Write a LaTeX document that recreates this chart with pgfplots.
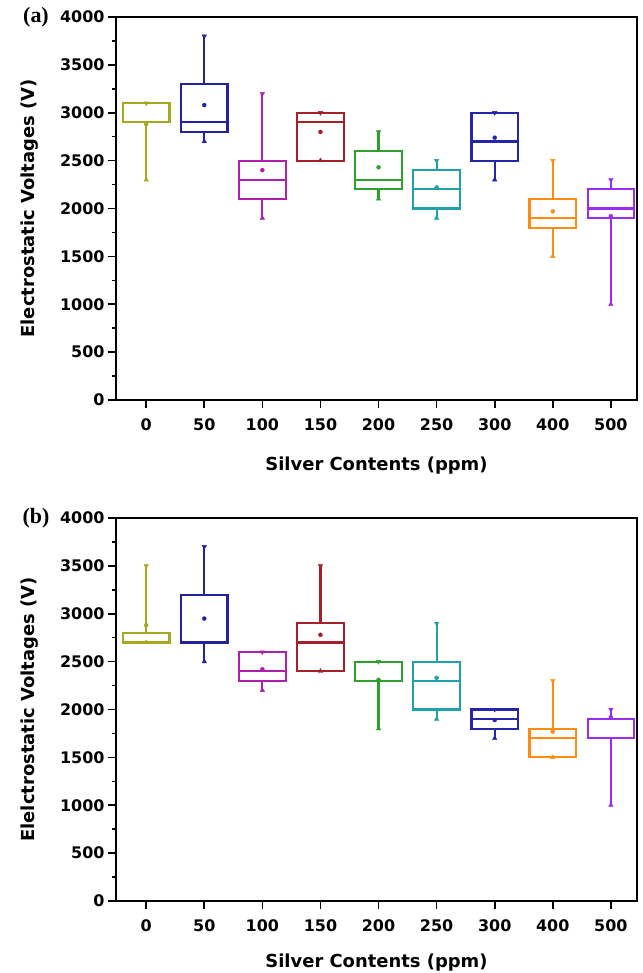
\documentclass[border=0pt]{standalone}
\usepackage{fontspec}
\setmainfont{DejaVu Sans}
\newfontfamily\panelfont{Liberation Serif}
\usepackage{pgfplots}
\usepackage{pgfplotstable}
\pgfplotsset{compat=1.18}

\definecolor{c0}{HTML}{A8A820}
\definecolor{c1}{HTML}{22229A}
\definecolor{c2}{HTML}{B01EB0}
\definecolor{c3}{HTML}{A52028}
\definecolor{c4}{HTML}{2EA02E}
\definecolor{c5}{HTML}{20A0A8}
\definecolor{c6}{HTML}{2525AA}
\definecolor{c7}{HTML}{FF8C10}
\definecolor{c8}{HTML}{9A2BF0}

% box statistics (V)
\pgfplotstableread{
pos lw   lq   med  uq   uw   mean
0   2300 2900 3100 3100 3100 2880
1   2700 2800 2900 3300 3800 3080
2   1900 2100 2300 2500 3200 2400
3   2500 2500 2900 3000 3000 2800
4   2100 2200 2300 2600 2800 2430
5   1900 2000 2200 2400 2500 2220
6   2300 2500 2700 3000 3000 2740
7   1500 1800 1900 2100 2500 1970
8   1000 1900 2000 2200 2300 1920
}\dataA

\pgfplotstableread{
pos lw   lq   med  uq   uw   mean
0   2700 2700 2700 2800 3500 2880
1   2500 2700 2700 3200 3700 2950
2   2200 2300 2400 2600 2600 2420
3   2400 2400 2700 2900 3500 2780
4   1800 2300 2300 2500 2500 2310
5   1900 2000 2300 2500 2900 2330
6   1700 1800 1900 2000 2000 1890
7   1500 1500 1700 1800 2300 1770
8   1000 1700 1900 1900 2000 1920
}\dataB

\pgfplotsset{
  panel/.style={
    scale only axis, width=521bp, height=383bp, anchor=south west,
    xmin=-0.52, xmax=8.45, ymin=0, ymax=4000,
    xtick={0,...,8}, xticklabels={0,50,100,150,200,250,300,400,500},
    ytick={0,500,...,4000}, minor y tick num=1,
    xtick pos=bottom, ytick pos=left, tick align=outside,
    major tick length=8bp, minor tick length=4bp,
    axis line style={line width=2pt},
    tick style={black, line width=1.6pt},
    /pgf/number format/1000 sep={},
    /pgf/number format/assume math mode=true,
    ticklabel style={font=\bfseries\fontsize{16}{16}\selectfont},
    xticklabel style={yshift=-7bp},
    label style={font=\bfseries\fontsize{18}{18}\selectfont},
    xlabel={Silver Contents (ppm)},
  },
}

% one box (box, median, whiskers, mean, min and max marks) from row #1 of table #2
\newcommand\drawbox[2]{%
  \pgfplotstablegetelem{#1}{lw}\of#2\let\vlw\pgfplotsretval
  \pgfplotstablegetelem{#1}{lq}\of#2\let\vlq\pgfplotsretval
  \pgfplotstablegetelem{#1}{med}\of#2\let\vmed\pgfplotsretval
  \pgfplotstablegetelem{#1}{uq}\of#2\let\vuq\pgfplotsretval
  \pgfplotstablegetelem{#1}{uw}\of#2\let\vuw\pgfplotsretval
  \pgfplotstablegetelem{#1}{mean}\of#2\let\vmean\pgfplotsretval
  \pgfmathsetmacro\xl{#1-0.4}%
  \pgfmathsetmacro\xr{#1+0.4}%
  \edef\doplot{%
    \noexpand\addplot[c#1, line width=2.2pt, line join=miter, mark=none]
      coordinates {(\xl,\vlq) (\xr,\vlq) (\xr,\vuq) (\xl,\vuq) (\xl,\vlq) (\xr,\vlq)};
    \noexpand\addplot[c#1, line width=2.2pt, mark=none]
      coordinates {(\xl,\vmed) (\xr,\vmed)};
    \noexpand\addplot[c#1, line width=2.2pt, mark=none]
      coordinates {(#1,\vlw) (#1,\vlq)};
    \noexpand\addplot[c#1, line width=2.2pt, mark=none]
      coordinates {(#1,\vuq) (#1,\vuw)};
    \noexpand\addplot[c#1, only marks, mark=*, mark size=2pt]
      coordinates {(#1,\vmean)};
    \noexpand\addplot[c#1, only marks, mark=triangle*, mark size=2.6pt]
      coordinates {(#1,\vlw)};
    \noexpand\addplot[c#1, only marks, mark=triangle*, mark size=2.6pt,
      mark options={rotate=180}] coordinates {(#1,\vuw)};
  }%
  \doplot
}

\begin{document}
\begin{tikzpicture}
\useasboundingbox (0,0) rectangle (643bp,973bp);

\begin{axis}[panel, at={(116bp,573bp)},
  ylabel={Electrostatic Voltages (V)},
  ylabel style={at={(axis description cs:-0.165,0.5)}, anchor=center},
  xlabel style={at={(axis description cs:0.5,-0.172)}, anchor=center}]
\pgfplotsinvokeforeach{0,...,8}{\drawbox{#1}{\dataA}}
\end{axis}
\node[font=\panelfont\bfseries\fontsize{22}{22}\selectfont] at (36bp,956bp) {(a)};

\begin{axis}[panel, at={(116bp,72bp)},
  ylabel={Elelctrostatic Voltages (V)},
  ylabel style={at={(axis description cs:-0.165,0.5)}, anchor=center},
  xlabel style={at={(axis description cs:0.5,-0.16)}, anchor=center}]
\pgfplotsinvokeforeach{0,...,8}{\drawbox{#1}{\dataB}}
\end{axis}
\node[font=\panelfont\bfseries\fontsize{22}{22}\selectfont] at (36bp,455bp) {(b)};
\end{tikzpicture}
\end{document}
